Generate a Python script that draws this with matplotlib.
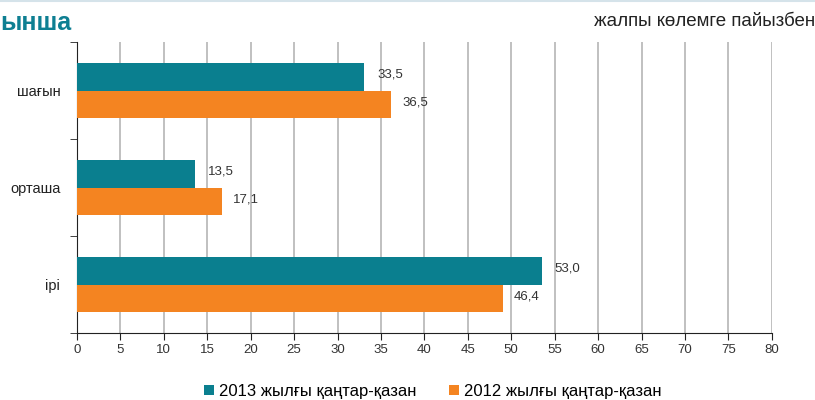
import matplotlib
matplotlib.use("Agg")
import matplotlib.pyplot as plt
import numpy as np

plt.rcParams['font.family'] = ['Liberation Sans', 'DejaVu Sans']

# data (bar lengths, labels as printed)
categories = ['шағын', 'орташа', 'ірі']
values_2013 = [33.1, 13.6, 53.5]
values_2012 = [36.2, 16.7, 49.0]
labels_2013 = ['33,5', '13,5', '53,0']
labels_2012 = ['36,5', '17,1', '46,4']
series_names = ['2013 жылғы қаңтар-қазан', '2012 жылғы қаңтар-қазан']
xticks = list(range(0, 85, 5))

teal = '#0a7f8f'
orange = '#f48421'

fig = plt.figure(figsize=(8.15, 4.0), dpi=100)
ax = fig.add_axes([0.0945, 0.1675, 0.8525, 0.7275])

y = np.arange(len(categories))
h = 0.284
b1 = ax.barh(y - h / 2, values_2013, height=h, color=teal, label=series_names[0], zorder=3)
b2 = ax.barh(y + h / 2, values_2012, height=h, color=orange, label=series_names[1], zorder=3)

for bar, lab in zip(b1, labels_2013):
    ax.text(bar.get_width() + 1.5, bar.get_y() + bar.get_height() / 2 - 0.02, lab,
            va='center', ha='left', fontsize=9.5, color='#333333')
for bar, lab in zip(b2, labels_2012):
    ax.text(bar.get_width() + 1.3, bar.get_y() + bar.get_height() / 2 - 0.02, lab,
            va='center', ha='left', fontsize=9.5, color='#333333')

ax.set_xlim(0, 80)
ax.set_ylim(len(categories) - 0.5, -0.5)
ax.set_xticks(xticks)
ax.set_xticklabels([str(t) for t in xticks], fontsize=9.5, color='#333333')
ax.set_yticks(y)
ax.set_yticklabels(categories, fontsize=10.5, color='#222222')
ax.tick_params(axis='y', length=0, pad=12)
ax.set_yticks(np.arange(-0.5, len(categories), 1.0), minor=True)
ax.tick_params(axis='y', which='minor', length=5, color='#222222')
ax.tick_params(axis='x', length=5, color='#222222', pad=3)

ax.xaxis.grid(True, color='#b5b5b5', linewidth=1.2, zorder=0)
ax.set_axisbelow(True)
for s in ['top', 'right']:
    ax.spines[s].set_visible(False)
ax.spines['left'].set_color('#222222')
ax.spines['bottom'].set_color('#222222')

fig.legend(handles=[b1, b2], labels=series_names, loc='lower center',
           bbox_to_anchor=(0.531, -0.035), ncol=2, frameon=False, fontsize=12,
           handlelength=0.6, handleheight=0.6, columnspacing=2.0, handletextpad=0.25)

fig.text(0.0, 0.942, 'ынша', fontsize=18, fontweight='bold', color='#0e7f92',
         ha='left', va='center')
fig.text(1.0, 0.945, 'жалпы көлемге пайызбен', fontsize=13.5, color='#222222',
         ha='right', va='center')
fig.add_artist(plt.Line2D([0, 1], [0.998, 0.998], color='#d5e3ea', linewidth=1.5))

fig.savefig('out.png', dpi=100)
